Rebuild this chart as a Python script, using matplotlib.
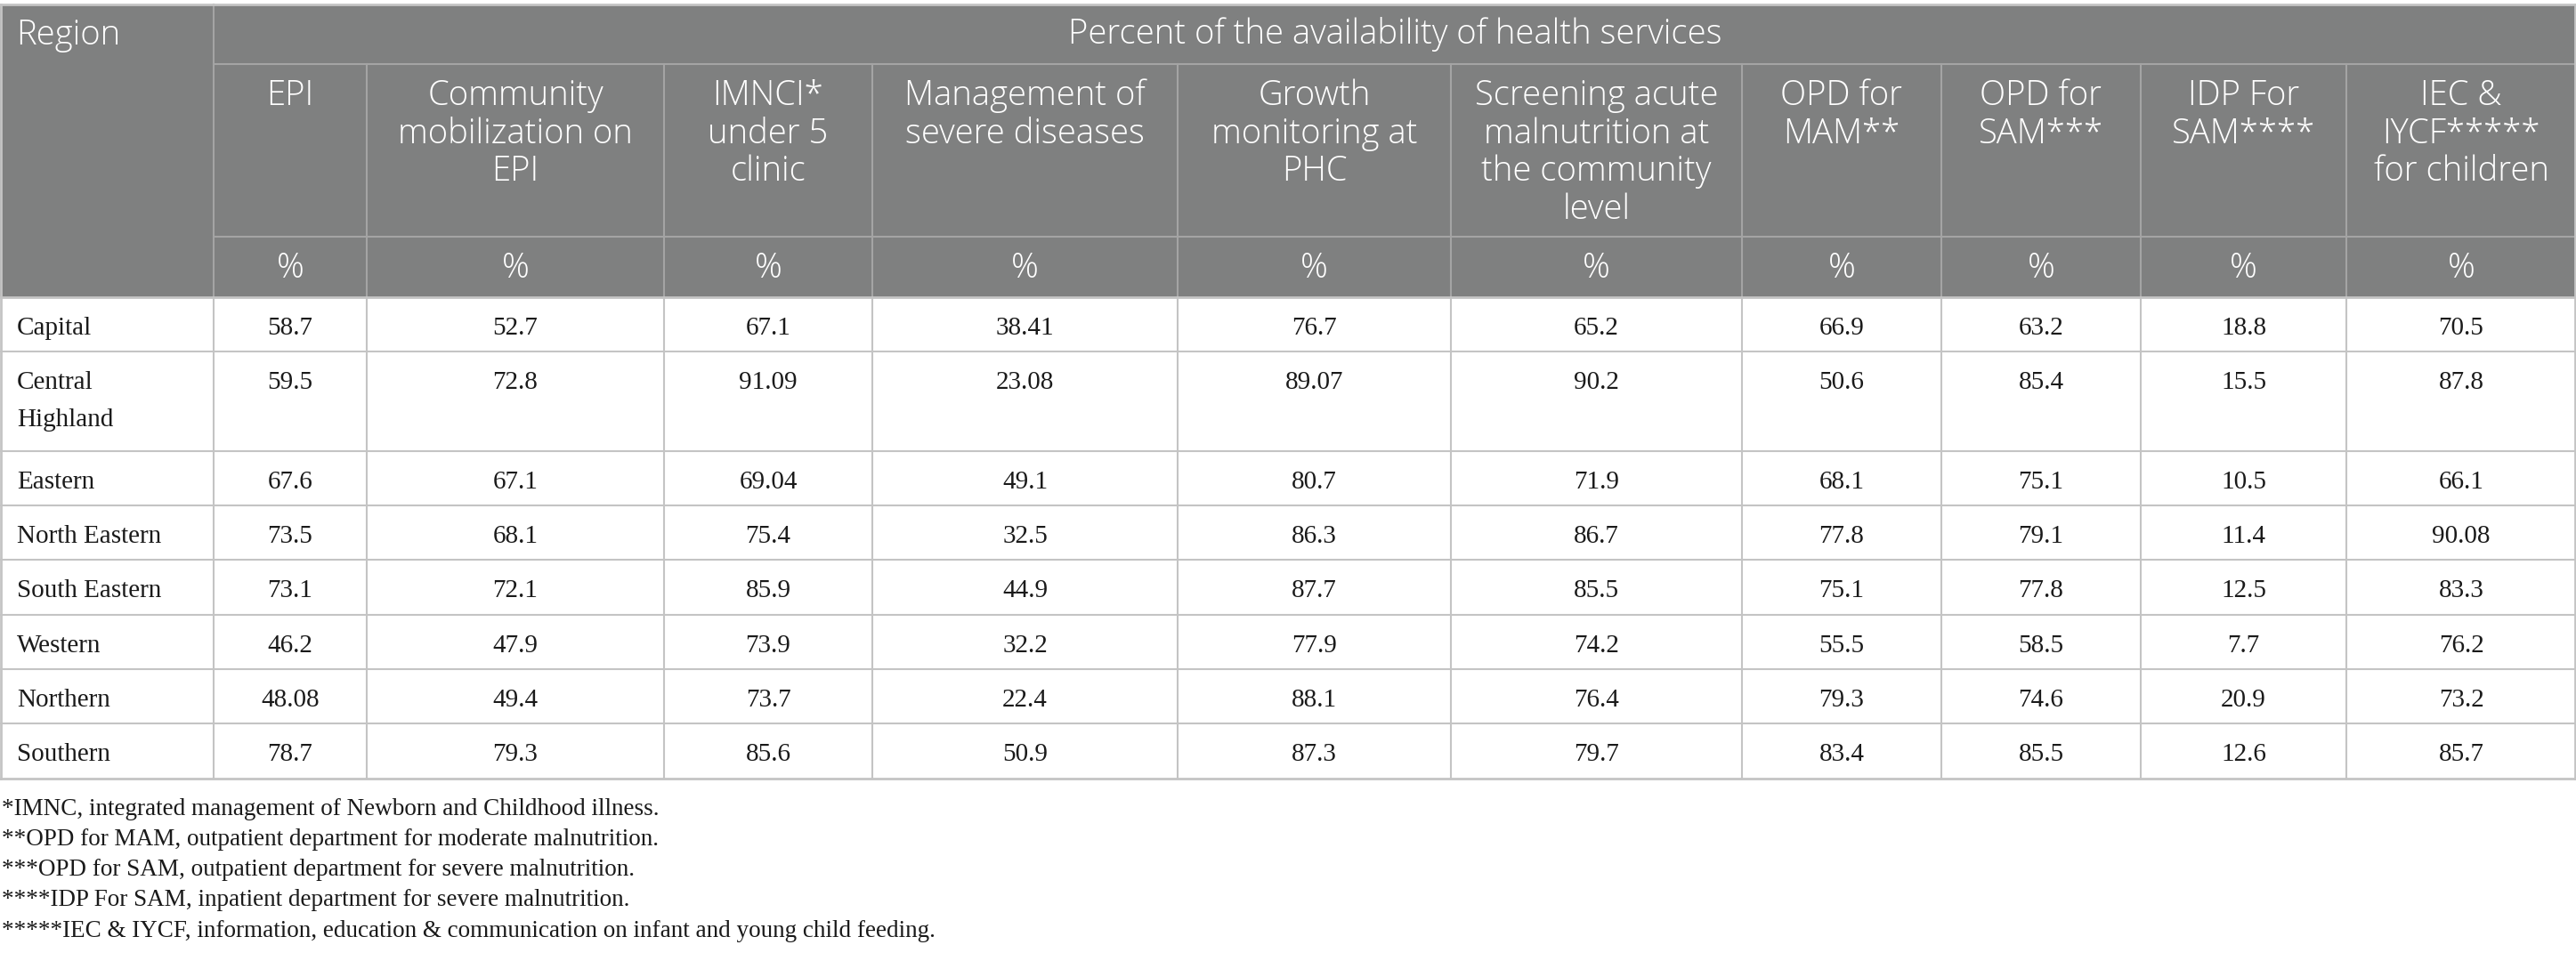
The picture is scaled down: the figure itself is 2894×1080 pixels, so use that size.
import matplotlib
matplotlib.use("Agg")
import matplotlib.pyplot as plt
from matplotlib.patches import Rectangle

# table content
regions = ['Capital', 'Central\nHighland', 'Eastern', 'North Eastern',
           'South Eastern', 'Western', 'Northern', 'Southern']
services = ['EPI', 'Community\nmobilization on\nEPI', 'IMNCI*\nunder 5\nclinic',
            'Management of\nsevere diseases', 'Growth\nmonitoring at\nPHC',
            'Screening acute\nmalnutrition at\nthe community\nlevel',
            'OPD for\nMAM**', 'OPD for\nSAM***', 'IDP For\nSAM****',
            'IEC &\nIYCF*****\nfor children']
epi = [58.7, 59.5, 67.6, 73.5, 73.1, 46.2, 48.08, 78.7]
community_mob = [52.7, 72.8, 67.1, 68.1, 72.1, 47.9, 49.4, 79.3]
imnci = [67.1, 91.09, 69.04, 75.4, 85.9, 73.9, 73.7, 85.6]
severe_mgmt = [38.41, 23.08, 49.1, 32.5, 44.9, 32.2, 22.4, 50.9]
growth_phc = [76.7, 89.07, 80.7, 86.3, 87.7, 77.9, 88.1, 87.3]
screening = [65.2, 90.2, 71.9, 86.7, 85.5, 74.2, 76.4, 79.7]
opd_mam = [66.9, 50.6, 68.1, 77.8, 75.1, 55.5, 79.3, 83.4]
opd_sam = [63.2, 85.4, 75.1, 79.1, 77.8, 58.5, 74.6, 85.5]
idp_sam = [18.8, 15.5, 10.5, 11.4, 12.5, 7.7, 20.9, 12.6]
iec_iycf = [70.5, 87.8, 66.1, 90.08, 83.3, 76.2, 73.2, 85.7]
footnotes = [
    '*IMNC, integrated management of Newborn and Childhood illness.',
    '**OPD for MAM, outpatient department for moderate malnutrition.',
    '***OPD for SAM, outpatient department for severe malnutrition.',
    '****IDP For SAM, inpatient department for severe malnutrition.',
    '*****IEC & IYCF, information, education & communication on infant and young child feeding.',
]
columns = [epi, community_mob, imnci, severe_mgmt, growth_phc, screening,
           opd_mam, opd_sam, idp_sam, iec_iycf]

# layout (pixels)
W, H = 2894, 1080
col_edges = [0, 240, 412, 746, 980, 1323, 1630, 1957, 2181, 2405, 2636, 2894]
top, title_bot, head_bot, pct_bot = 5, 72, 266, 334
row_h = 61.3
tall = 111.5
head_bg = '#7f8080'
head_line = '#a4a4a4'
body_line = '#c4c4c4'
sans = 'Open Sans'
serif = 'Liberation Serif'

fig = plt.figure(figsize=(W / 100, H / 100), dpi=100)
ax = fig.add_axes([0, 0, 1, 1])
ax.set_xlim(0, W)
ax.set_ylim(H, 0)
ax.axis('off')

# header block
ax.add_patch(Rectangle((0, top), W, pct_bot - top, facecolor=head_bg, edgecolor='none'))
ax.plot([col_edges[1], W], [title_bot, title_bot], color=head_line, lw=1.5)
ax.plot([col_edges[1], W], [head_bot, head_bot], color=head_line, lw=1.5)
ax.plot([col_edges[1], col_edges[1]], [top, pct_bot], color=head_line, lw=1.5)
for x in col_edges[2:-1]:
    ax.plot([x, x], [title_bot, pct_bot], color=head_line, lw=1.5)

hfs = 27.5
hkw = dict(color='white', fontsize=hfs, family=sans, fontweight='light', va='center')
ax.text(18, 40, 'Region', ha='left', **hkw)
ax.text((col_edges[1] + W) / 2, 39, 'Percent of the availability of health services',
        ha='center', **hkw)
for j, name in enumerate(services):
    cx = (col_edges[j + 1] + col_edges[j + 2]) / 2
    for k, line in enumerate(name.split('\n')):
        ax.text(cx, 108 + k * 42.5, line, ha='center', **hkw)
    ax.text(cx, 302, '%', ha='center', **hkw)

# body rows
y = pct_bot
row_tops = []
for r in regions:
    row_tops.append(y)
    y += tall if '\n' in r else row_h
bottom = y

for i, r in enumerate(regions):
    yt = row_tops[i]
    for k, line in enumerate(r.split('\n')):
        ax.text(19, yt + 35 + k * 42, line, fontsize=21, family=serif,
                va='center', ha='left', color='#1a1a1a')
    for j, vals in enumerate(columns):
        cx = (col_edges[j + 1] + col_edges[j + 2]) / 2
        ax.text(cx, yt + 35, str(vals[i]), fontsize=21, family=serif,
                va='center', ha='center', color='#1a1a1a')
    if i > 0:
        ax.plot([0, W], [yt, yt], color=body_line, lw=1.5)

ax.plot([0, W], [bottom, bottom], color=body_line, lw=2)
ax.plot([0, W], [pct_bot, pct_bot], color=body_line, lw=2)
ax.plot([0, W], [top, top], color=body_line, lw=2)
for x in col_edges[1:-1]:
    ax.plot([x, x], [pct_bot, bottom], color=body_line, lw=1.5)
ax.plot([1, 1], [top, bottom], color=body_line, lw=2)
ax.plot([W - 1, W - 1], [top, bottom], color=body_line, lw=2)

for k, note in enumerate(footnotes):
    ax.text(2, 909 + k * 34.3, note, fontsize=19.5, family=serif, va='center',
            ha='left', color='#1a1a1a')

fig.savefig('out.png', dpi=100)
